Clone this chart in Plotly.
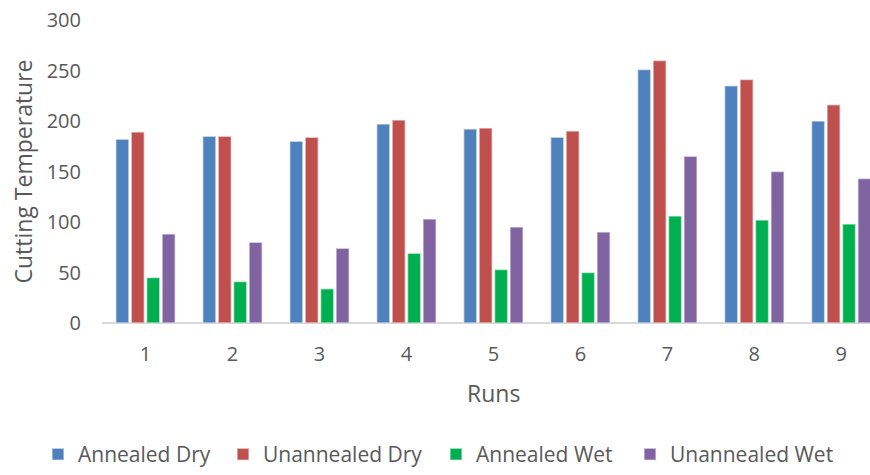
import plotly.graph_objects as go

# Cutting temperature per run for each treatment / cooling condition
runs = [1, 2, 3, 4, 5, 6, 7, 8, 9]
annealed_dry = [182, 185, 180, 197, 192, 184, 251, 235, 200]
unannealed_dry = [189, 185, 184, 201, 193, 190, 260, 241, 216]
annealed_wet = [45, 41, 34, 69, 53, 50, 106, 102, 98]
unannealed_wet = [88, 80, 74, 103, 95, 90, 165, 150, 143]

series = [
    ("Annealed Dry", annealed_dry, "#4F81BD"),
    ("Unannealed Dry", unannealed_dry, "#C0504D"),
    ("Annealed Wet", annealed_wet, "#00B050"),
    ("Unannealed Wet", unannealed_wet, "#8064A2"),
]

FONT = "Open Sans"
TEXT = "#595959"
W, H = 870, 475

# left edge (px) of each legend entry's text
legend_text_x = [78, 263, 476, 670]

fig = go.Figure()
legend_layouts = {}
for i, (name, vals, color) in enumerate(series):
    key = "legend" if i == 0 else f"legend{i + 1}"
    fig.add_trace(go.Bar(
        x=runs, y=vals, name=name, legend=key,
        marker=dict(color=color, line=dict(color="rgba(255,255,255,0.55)", width=1.5)),
    ))
    legend_layouts[key] = dict(
        xref="container", yref="container",
        x=(legend_text_x[i] - 40) / W, xanchor="left",
        y=-5 / H, yanchor="bottom",
        orientation="h", itemwidth=30,
        font=dict(family=FONT, size=21, color=TEXT),
        bgcolor="rgba(0,0,0,0)",
    )

fig.update_layout(
    width=W, height=H,
    margin=dict(l=102, r=0, t=20, b=152, autoexpand=False),
    paper_bgcolor="white", plot_bgcolor="white",
    font=dict(family=FONT, size=20, color=TEXT),
    barmode="group", bargap=0.29, bargroupgap=0.15,
    showlegend=True,
    xaxis=dict(
        range=[0.5, 9.33], tickmode="array", tickvals=runs,
        ticktext=[str(r) for r in runs],
        showgrid=False, zeroline=False, showline=False,
        ticks="", ticklabelstandoff=17,
        tickfont=dict(family=FONT, size=20, color=TEXT),
    ),
    yaxis=dict(
        range=[0, 300], tickvals=[0, 50, 100, 150, 200, 250, 300],
        showgrid=False, zeroline=True, zerolinecolor="#D9D9D9", zerolinewidth=2,
        showline=False, ticks="", ticklabelstandoff=20,
        tickfont=dict(family=FONT, size=20, color=TEXT),
    ),
    annotations=[
        dict(text="Runs", x=5, xref="x", y=-(393 - 323) / 303, yref="paper",
             yanchor="middle", showarrow=False,
             font=dict(family=FONT, size=23, color=TEXT)),
        dict(text="Cutting Temperature", textangle=-90, x=(22 - 102) / (W - 102),
             xref="paper", y=0.5, yref="paper", xanchor="center", yanchor="middle",
             showarrow=False, font=dict(family=FONT, size=23, color=TEXT)),
    ],
    **legend_layouts,
)

fig.write_html("out.html")
